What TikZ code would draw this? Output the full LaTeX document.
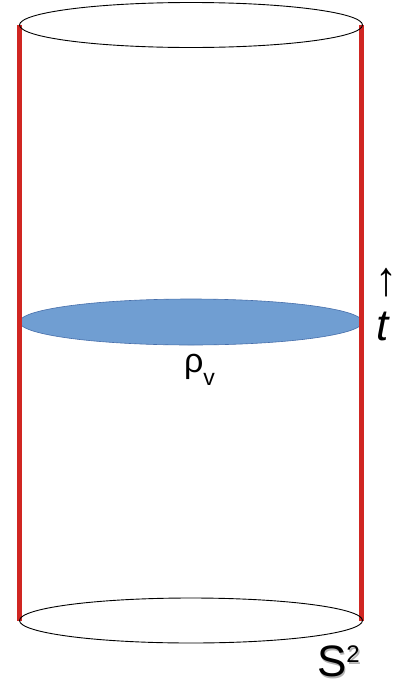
\documentclass[tikz,border=0pt]{standalone}
\usepackage{fontspec}
\setmainfont{Liberation Sans}
\definecolor{redline}{RGB}{208,38,34}
\definecolor{bluefill}{RGB}{112,158,210}
\definecolor{blueedge}{RGB}{70,110,170}
\tikzset{
  rim/.style={draw=black, line width=0.9pt},
  wall/.style={draw=redline, line width=4.5pt},
  slice/.style={fill=bluefill, draw=blueedge, line width=0.6pt},
  lbl/.style={inner sep=0pt, outer sep=0pt, anchor=base west}
}
\begin{document}
\begin{tikzpicture}[x=1pt,y=-1pt]
\useasboundingbox (0,0) rectangle (394,683);
% blue slice
\path[slice] (191,322) ellipse [x radius=171.5, y radius=23];
% red walls
\coordinate (lt) at (19.5,25);
\coordinate (lb) at (19.5,620.5);
\coordinate (rt) at (361.5,25);
\coordinate (rb) at (361.5,620.5);
\draw[wall] (lt) -- (lb);
\draw[wall] (rt) -- (rb);
% rims
\path[rim] (191,25) ellipse [x radius=171.5, y radius=22.5];
\path[rim] (191,620.5) ellipse [x radius=171.5, y radius=22.5];
% labels
\node[lbl] (rho) at (184,372) {\fontsize{34}{34}\selectfont ρ\raisebox{-13pt}{\fontsize{23}{23}\selectfont v}};
\node[inner sep=0pt, anchor=center] (arr) at (386,283) {\scalebox{1}[1.1]{\fontsize{44}{44}\selectfont ↑}};
\node[lbl] (t) at (376,340) {\fontsize{44}{44}\selectfont\itshape t};
\node[lbl, text=gray!60] (s2shadow) at (318.5,678) {\fontsize{44}{44}\selectfont S\raisebox{14pt}{\fontsize{24}{24}\selectfont 2}};
\node[lbl] (s2) at (317,676.5) {\fontsize{44}{44}\selectfont S\raisebox{14pt}{\fontsize{24}{24}\selectfont 2}};
\end{tikzpicture}
\end{document}
